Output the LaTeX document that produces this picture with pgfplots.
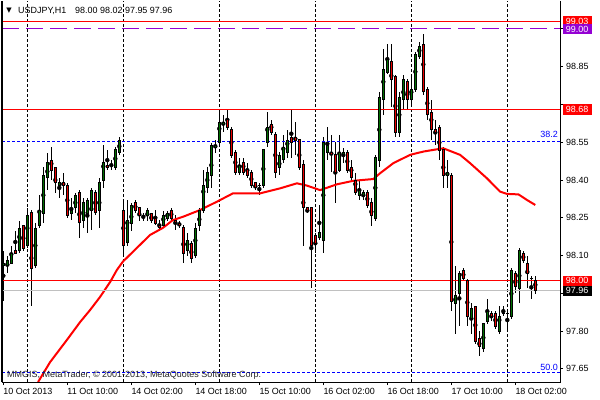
\documentclass[border=0pt]{standalone}
\usepackage{fontspec}
\setmainfont{Liberation Sans}
\newfontfamily\symfont{DejaVu Sans}
\usepackage{pgfplots}
\usepackage{pgfplotstable}
\pgfplotsset{compat=1.18}

\definecolor{bull}{RGB}{0,110,0}
\definecolor{bear}{RGB}{235,0,0}
\definecolor{lvlpurple}{RGB}{148,0,211}
\definecolor{lvlgray}{RGB}{192,192,192}
\definecolor{fibo}{RGB}{0,0,255}
\newcommand\lab{\fontsize{9}{10}\selectfont}

% USDJPY H1 bars: index, open, high, low, close
\pgfplotstableread{
i o h l c
0 98.06 98.12 97.92 98.07
1 98.06 98.10 98.03 98.08
2 98.07 98.14 98.07 98.11
3 98.12 98.20 98.11 98.11
4 98.12 98.24 98.11 98.21
5 98.22 98.22 98.12 98.13
6 98.14 98.29 98.13 98.26
7 98.27 98.28 97.90 98.05
8 98.06 98.23 98.05 98.21
9 98.22 98.34 98.21 98.28
10 98.27 98.45 98.23 98.42
11 98.41 98.51 98.36 98.47
12 98.48 98.53 98.40 98.44
13 98.45 98.45 98.35 98.39
14 98.38 98.41 98.33 98.39
15 98.39 98.43 98.34 98.38
16 98.38 98.39 98.25 98.26
17 98.27 98.33 98.24 98.28
18 98.29 98.35 98.27 98.34
19 98.35 98.36 98.17 98.23
20 98.24 98.33 98.21 98.31
21 98.27 98.33 98.19 98.32
22 98.28 98.37 98.20 98.36
23 98.35 98.36 98.26 98.27
24 98.28 98.41 98.21 98.39
25 98.40 98.54 98.37 98.47
26 98.46 98.52 98.44 98.45
27 98.46 98.48 98.44 98.46
28 98.45 98.53 98.44 98.52
29 98.51 98.57 98.50 98.56
30 98.28 98.32 98.10 98.14
31 98.15 98.32 98.14 98.24
32 98.23 98.31 98.20 98.30
33 98.31 98.32 98.27 98.28
34 98.29 98.29 98.24 98.26
35 98.25 98.27 98.24 98.25
36 98.26 98.29 98.24 98.28
37 98.27 98.27 98.23 98.24
38 98.25 98.28 98.22 98.23
39 98.22 98.24 98.20 98.21
40 98.22 98.28 98.21 98.26
41 98.25 98.28 98.24 98.27
42 98.28 98.29 98.24 98.25
43 98.24 98.26 98.20 98.23
44 98.23 98.24 98.21 98.22
45 98.21 98.22 98.07 98.11
46 98.12 98.19 98.10 98.16
47 98.15 98.16 98.07 98.09
48 98.10 98.23 98.09 98.21
49 98.22 98.29 98.20 98.28
50 98.28 98.44 98.27 98.38
51 98.37 98.45 98.35 98.43
52 98.42 98.55 98.37 98.54
53 98.53 98.56 98.51 98.54
54 98.55 98.67 98.54 98.63
55 98.62 98.66 98.59 98.63
56 98.64 98.68 98.60 98.61
57 98.60 98.61 98.49 98.50
58 98.51 98.52 98.42 98.43
59 98.43 98.49 98.42 98.46
60 98.47 98.49 98.42 98.43
61 98.44 98.47 98.41 98.42
62 98.43 98.44 98.37 98.38
63 98.39 98.39 98.36 98.37
64 98.38 98.39 98.34 98.38
65 98.38 98.52 98.37 98.52
66 98.55 98.67 98.53 98.61
67 98.62 98.64 98.58 98.59
68 98.58 98.59 98.41 98.43
69 98.45 98.51 98.42 98.50
70 98.48 98.58 98.47 98.53
71 98.51 98.60 98.49 98.56
72 98.57 98.68 98.49 98.55
73 98.57 98.63 98.50 98.56
74 98.56 98.56 98.44 98.45
75 98.46 98.48 98.14 98.29
76 98.29 98.29 98.27 98.28
77 98.29 98.29 97.97 98.14
78 98.18 98.19 98.11 98.15
79 98.17 98.30 98.16 98.19
80 98.16 98.57 98.11 98.55
81 98.51 98.61 98.48 98.54
82 98.51 98.58 98.43 98.50
83 98.50 98.55 98.31 98.43
84 98.44 98.58 98.43 98.51
85 98.50 98.53 98.47 98.51
86 98.51 98.52 98.43 98.44
87 98.45 98.48 98.40 98.41
88 98.40 98.43 98.34 98.35
89 98.34 98.40 98.32 98.36
90 98.34 98.36 98.32 98.35
91 98.35 98.36 98.29 98.30
92 98.31 98.33 98.22 98.26
93 98.25 98.50 98.24 98.49
94 98.48 98.75 98.45 98.73
95 98.72 98.92 98.66 98.84
96 98.83 98.94 98.82 98.88
97 98.87 98.94 98.69 98.80
98 98.81 98.82 98.57 98.59
99 98.59 98.75 98.57 98.73
100 98.72 98.82 98.68 98.80
101 98.79 98.80 98.68 98.72
102 98.72 98.81 98.69 98.76
103 98.76 98.91 98.75 98.90
104 98.89 98.95 98.88 98.93
105 98.94 98.98 98.74 98.75
106 98.76 98.77 98.64 98.66
107 98.67 98.72 98.56 98.60
108 98.60 98.64 98.54 98.59
109 98.61 98.62 98.48 98.52
110 98.52 98.53 98.37 98.42
111 98.42 98.48 98.37 98.43
112 98.42 98.43 97.88 97.92
113 97.91 98.06 97.79 97.94
114 97.95 98.04 97.82 98.03
115 98.04 98.05 98.00 98.01
116 98.00 98.01 97.82 97.86
117 97.85 97.91 97.79 97.89
118 97.90 97.90 97.75 97.76
119 97.77 97.80 97.70 97.74
120 97.73 97.83 97.72 97.83
121 97.84 97.93 97.83 97.88
122 97.87 97.88 97.84 97.86
123 97.87 97.88 97.81 97.82
124 97.80 97.90 97.79 97.86
125 97.87 97.90 97.86 97.87
126 97.87 97.88 97.81 97.87
127 97.86 98.05 97.85 98.04
128 98.03 98.04 97.95 97.98
129 97.97 98.13 97.91 98.12
130 98.11 98.12 98.07 98.08
131 98.07 98.10 97.97 98.03
132 98.01 98.02 97.93 98.01
133 98.00 98.02 97.95 97.96
}\bars

% moving average
\pgfplotstableread{
i ma
8.7 97.598
11.7 97.677
15.9 97.765
19.2 97.836
21.7 97.884
24.2 97.936
26.7 97.995
28.4 98.043
29.9 98.076
32.4 98.115
36.7 98.182
39.9 98.210
42.4 98.241
44.9 98.254
49.2 98.281
53.4 98.314
57.4 98.347
64.2 98.347
65.9 98.354
69.2 98.367
73.4 98.387
75.9 98.378
79.2 98.360
83.4 98.383
87.5 98.397
92.5 98.404
94.2 98.427
97.5 98.467
101.7 98.500
105 98.513
108.4 98.522
110 98.526
114.2 98.500
116.7 98.467
120.9 98.407
124.2 98.354
125.9 98.345
128.8 98.343
130.9 98.321
133 98.301
}\maline

\begin{document}
\begin{tikzpicture}
\useasboundingbox (-2bp,-18bp) rectangle (598bp,382bp);
\fill[white] (-2bp,-18bp) rectangle (598bp,382bp);
\begin{axis}[
  at={(0,0)}, anchor=south west,
  scale only axis, width=558bp, height=381bp,
  xmin=-0.325, xmax=139.175, ymin=97.598, ymax=99.111,
  clip=false,
  axis line style={draw=none},
  tick align=outside, major tick length=3bp,
  tick style={black, line width=1bp},
  xtick pos=bottom, ytick pos=right, yticklabel pos=right,
  xtick={0,16,32,48,64,80,96,112,128},
  xticklabels={10 Oct 2013, 11 Oct 10:00, 14 Oct 02:00, 14 Oct 18:00, 15 Oct 10:00, 16 Oct 02:00, 16 Oct 18:00, 17 Oct 10:00, 18 Oct 02:00},
  xticklabel style={anchor=north west, inner sep=0pt, yshift=-3bp, font=\lab},
  ytick={97.65,97.80,97.95,98.10,98.25,98.40,98.55,98.70,98.85,99.00},
  yticklabels={97.65,97.80,,98.10,98.25,98.40,98.55,,98.85,},
  yticklabel style={anchor=west, inner sep=0pt, xshift=3bp, font=\lab},
  scaled y ticks=false,
]
% vertical grid
\foreach \g in {5.93,29.93,53.93,77.93,101.93,125.93}{
  \edef\tmp{\noexpand\draw[black, line width=1bp, dash pattern=on 3bp off 2bp]
    (axis cs:\g,97.598) -- (axis cs:\g,99.111);}\tmp
}
% wicks: high-low
\addplot[only marks, mark=none, color=black,
    error bars/y dir=both, error bars/y explicit, error bars/error mark=none,
    error bars/error bar style={line width=1bp}]
  table[x=i, y expr={(\thisrow{h}+\thisrow{l})/2},
        y error expr={(\thisrow{h}-\thisrow{l})/2}] {\bars};
% bodies: open-close, 251.8 bp per yen on this axis
\addplot[scatter, only marks, mark=*, mark size=0pt, mark options={draw=none, fill=none},
    visualization depends on={251.8*(\thisrow{o}-\thisrow{c}) \as \dh},
    scatter/@pre marker code/.code={%
      \pgfmathsetmacro\ho{abs(\dh)/2+0.5}%
      \pgfmathsetmacro\hi{abs(\dh)/2-0.5}%
      \draw[draw=black, line width=3.2bp] (0bp,-\ho bp) -- (0bp,\ho bp);
      \ifdim\hi pt>0.2pt
        \ifdim\dh pt>0pt \def\bc{bear}\else\def\bc{bull}\fi
        \draw[draw=\bc, line width=1.4bp] (0bp,-\hi bp) -- (0bp,\hi bp);
      \fi
    },
    scatter/@post marker code/.code={}]
  table[x=i, y expr={(\thisrow{o}+\thisrow{c})/2}] {\bars};
% moving average
\addplot[red, line width=2bp] table[x=i, y=ma] {\maline};

% levels
\draw[red, line width=1bp] (axis cs:-0.325,99.03) -- (axis cs:139.175,99.03);
\draw[lvlpurple, line width=1bp, dash pattern=on 17bp off 7bp] (axis cs:-0.325,99.00) -- (axis cs:139.175,99.00);
\draw[red, line width=1bp] (axis cs:-0.325,98.68) -- (axis cs:139.175,98.68);
\draw[fibo, line width=1bp, dash pattern=on 3bp off 2bp] (axis cs:-0.325,98.555) -- (axis cs:139.175,98.555);
\draw[red, line width=1bp] (axis cs:-0.325,98.00) -- (axis cs:139.175,98.00);
\draw[lvlgray, line width=1bp] (axis cs:-0.325,97.96) -- (axis cs:139.175,97.96);
\draw[fibo, line width=1bp, dash pattern=on 3bp off 2bp] (axis cs:-0.325,97.637) -- (axis cs:139.175,97.637);
\node[anchor=south east, inner sep=0pt, xshift=-2bp, yshift=3bp, text=fibo, font=\lab] at (axis cs:139.175,98.555) {38.2};
\node[anchor=south east, inner sep=0pt, xshift=-2bp, yshift=1.5bp, text=fibo, font=\lab] at (axis cs:139.175,97.637) {50.0};

% price labels on the scale
\node[fill=red, text=white, anchor=west, xshift=2.5bp, minimum width=29bp, minimum height=10.5bp, inner sep=0pt, font=\lab] at (axis cs:139.175,99.03) {99.03};
\node[fill=lvlpurple, text=white, anchor=west, xshift=2.5bp, minimum width=29bp, minimum height=10.5bp, inner sep=0pt, font=\lab] at (axis cs:139.175,99.00) {99.00};
\node[fill=red, text=white, anchor=west, xshift=2.5bp, minimum width=29bp, minimum height=10.5bp, inner sep=0pt, font=\lab] at (axis cs:139.175,98.68) {98.68};
\node[fill=red, text=white, anchor=west, xshift=2.5bp, minimum width=29bp, minimum height=10bp, inner sep=0pt, font=\lab] at (axis cs:139.175,98.00) {98.00};
\node[fill=black, text=white, anchor=west, xshift=2.5bp, minimum width=29bp, minimum height=10bp, inner sep=0pt, font=\lab] at (axis cs:139.175,97.96) {97.96};

% frame
\draw[black, line width=1bp] (rel axis cs:1,1) -- (rel axis cs:1,0) -- (rel axis cs:0,0);
\draw[black, line width=1.5bp] (rel axis cs:0,0) -- (rel axis cs:0,1);
\end{axis}
\node[anchor=center, inner sep=0pt, font=\symfont\fontsize{7}{8}\selectfont] at (7bp,371bp) {▼};
\node[anchor=base west, inner sep=0pt, font=\lab] at (16bp,368bp) {USDJPY,H1};
\node[anchor=base west, inner sep=0pt, font=\lab] at (73bp,368bp) {98.00 98.02 97.95 97.96};
\node[anchor=base west, inner sep=0pt, font=\lab, text=black!85] at (5bp,5bp) {MMGIS, MetaTrader, © 2001-2013, MetaQuotes Software Corp.};
\end{tikzpicture}
\end{document}
